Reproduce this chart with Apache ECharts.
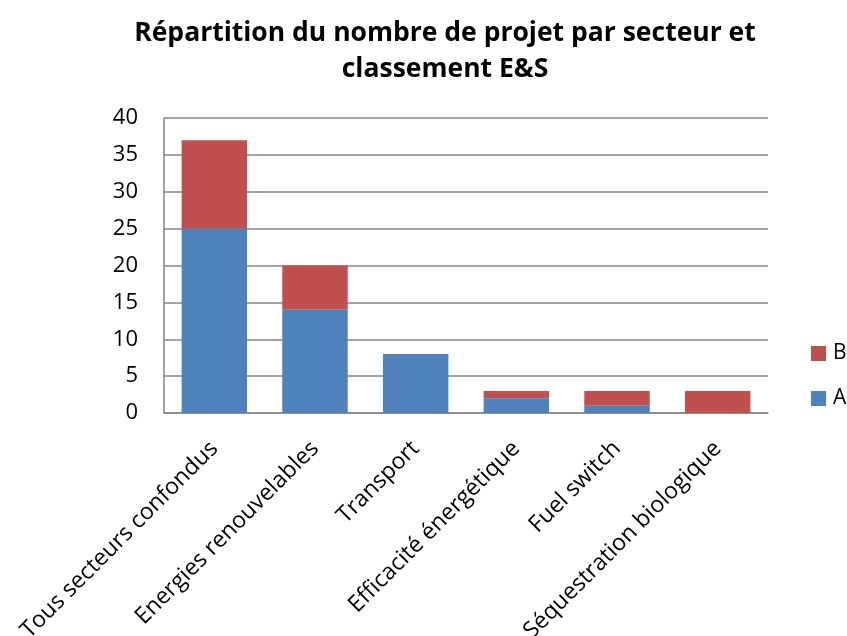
<!DOCTYPE html>
<html><head><meta charset="utf-8">
<script src="https://cdn.jsdelivr.net/npm/echarts@6/dist/echarts.min.js"></script>
<style>html,body{margin:0;padding:0;background:#fff}#c{width:847px;height:636px}</style>
</head><body><div id="c"></div>
<script>
const titleText = "Répartition du nombre de projet par secteur et\nclassement E&S";
const categories = ["Tous secteurs confondus", "Energies renouvelables", "Transport", "Efficacité énergétique", "Fuel switch", "Séquestration biologique"];
const seriesA = [25, 14, 8, 2, 1, 0];
const seriesB = [12, 6, 0, 1, 2, 3];
const yTicks = [0, 5, 10, 15, 20, 25, 30, 35, 40];

const font = "'Open Sans', sans-serif";
const chart = echarts.init(document.getElementById('c'), null, {renderer: 'canvas'});
chart.setOption({
  animation: false,
  textStyle: {fontFamily: font},
  title: {
    text: titleText, left: 440, textAlign: 'center', top: 10,
    textStyle: {fontFamily: font, fontWeight: 'bold', fontSize: 26.5, color: '#000', lineHeight: 36}
  },
  legend: {
    data: ['B', 'A'], orient: 'vertical', left: 806, top: 338,
    itemWidth: 15, itemHeight: 15, itemGap: 24, icon: 'rect',
    textStyle: {fontFamily: font, fontSize: 21, color: '#000', padding: [0,0,0,2]}
  },
  grid: {left: 164, right: 79, top: 118, bottom: 223, containLabel: false, outerBoundsMode: 'none'},
  xAxis: {
    type: 'category', data: categories,
    axisLine: {lineStyle: {color: '#868686', width: 1.5}},
    axisTick: {show: false},
    axisLabel: {rotate: 45, interval: 0, margin: 32, fontFamily: font, fontSize: 23, color: '#000'}
  },
  yAxis: {
    type: 'value', min: yTicks[0], max: yTicks[yTicks.length-1], interval: 5,
    axisLine: {show: true, lineStyle: {color: '#868686', width: 1.5}},
    axisTick: {show: false},
    splitLine: {lineStyle: {color: '#868686', width: 1.5}},
    axisLabel: {fontFamily: font, fontSize: 22, color: '#000', margin: 26}
  },
  series: [
    {name: 'A', type: 'bar', stack: 's', data: seriesA, barWidth: '65%', itemStyle: {color: '#4F81BD'}},
    {name: 'B', type: 'bar', stack: 's', data: seriesB, barWidth: '65%', itemStyle: {color: '#C0504D'}}
  ]
});
</script></body></html>
